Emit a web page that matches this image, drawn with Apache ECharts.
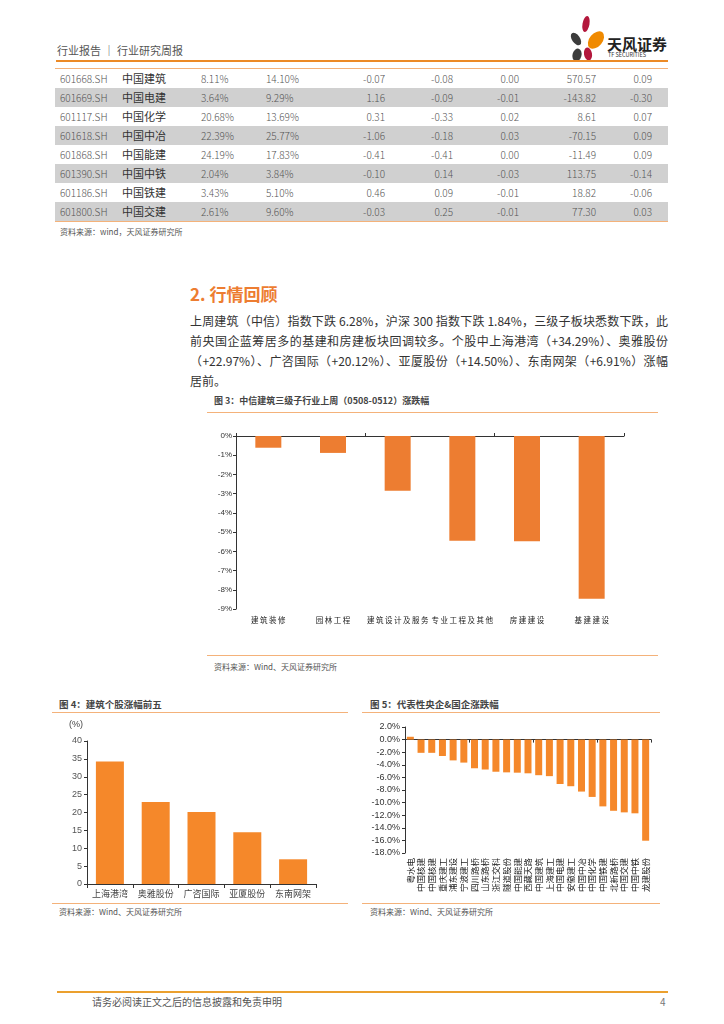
<!DOCTYPE html>
<html><head><meta charset="utf-8">
<script src="https://cdn.jsdelivr.net/npm/echarts@6/dist/echarts.min.js"></script>
<style>
body{margin:0;background:#fff;}
#page{position:relative;width:724px;height:1024px;overflow:hidden;background:#fff;font-family:"Noto Sans CJK SC","Noto Sans",sans-serif;color:#333;}
.abs{position:absolute;white-space:nowrap;}
.ln{position:absolute;height:0;}
#tbl{position:absolute;left:55px;top:69px;width:613px;border-collapse:collapse;table-layout:fixed;font-size:10px;color:#555;font-weight:300;}
#tbl td{height:19px;padding:0 5px;line-height:19px;white-space:nowrap;}
#tbl tr.g td{background:#d0d0d0;}
#tbl td.r{text-align:right;}
.para{position:absolute;left:190px;width:478px;font-size:12px;color:#333;text-align:justify;text-align-last:justify;white-space:nowrap;line-height:16px;}
#chart{position:absolute;left:0;top:0;width:724px;height:1024px;}
</style></head>
<body><div id="page">
<div class="abs" style="left:57px;top:42px;font-size:11px;color:#555;">行业报告 ｜ 行业研究周报</div>
<svg class="abs" style="left:566px;top:12px;" width="44" height="52">
  <ellipse cx="10" cy="27" rx="4" ry="7" fill="#3c3c3c" transform="rotate(-35 10 27)"/>
  <ellipse cx="20" cy="12" rx="3.5" ry="8" fill="#b3173c" transform="rotate(10 20 12)"/>
  <ellipse cx="30" cy="28" rx="6.5" ry="10" fill="#f08a00" transform="rotate(40 30 28)"/>
  <ellipse cx="11" cy="43" rx="4.5" ry="6.5" fill="#3c3c3c" transform="rotate(15 11 43)"/>
  <ellipse cx="22" cy="42" rx="4" ry="6.5" fill="#b3173c" transform="rotate(-10 22 42)"/>
</svg>
<div class="abs" style="left:607px;top:33px;font-size:15px;font-weight:bold;color:#222;">天风证券</div>
<div class="abs" style="left:608px;top:51px;font-size:5.5px;color:#333;">TF SECURITIES</div>
<div class="ln" style="left:56px;top:60px;width:612px;border-top:2px solid #ec8a26;"></div>
<div class="ln" style="left:55px;top:68px;width:613px;border-top:1px solid #f4b27a;"></div>
<table id="tbl"><colgroup>
<col style="width:62px"><col style="width:79px"><col style="width:65px"><col style="width:69px"><col style="width:60px"><col style="width:68px"><col style="width:66px"><col style="width:77px"><col style="width:67px">
</colgroup><tbody id="tb"></tbody></table>
<div class="ln" style="left:55px;top:221px;width:613px;border-top:1px solid #f4b27a;"></div>
<div class="abs" style="left:60px;top:226px;font-size:8px;color:#555;">资料来源：wind，天风证券研究所</div>

<div class="abs" style="left:190px;top:281px;font-size:17px;font-weight:bold;color:#ed7d31;">2. 行情回顾</div>
<div class="para" style="top:313px;">上周建筑（中信）指数下跌 6.28%，沪深 300 指数下跌 1.84%，三级子板块悉数下跌，此</div>
<div class="para" style="top:333px;">前央国企蓝筹居多的基建和房建板块回调较多。个股中上海港湾（+34.29%）、奥雅股份</div>
<div class="para" style="top:353px;">（+22.97%）、广咨国际（+20.12%）、亚厦股份（+14.50%）、东南网架（+6.91%）涨幅</div>
<div class="para" style="top:373px;text-align-last:left;">居前。</div>

<div class="abs" style="left:214px;top:394px;font-size:9px;font-weight:bold;color:#444;">图 3：中信建筑三级子行业上周（0508-0512）涨跌幅</div>
<div class="ln" style="left:207px;top:412px;width:451px;border-top:1px solid #f4b27a;"></div>
<div class="ln" style="left:207px;top:655px;width:451px;border-top:1px solid #f4b27a;"></div>
<div class="abs" style="left:214px;top:661px;font-size:8px;color:#555;">资料来源：Wind、天风证券研究所</div>

<div class="abs" style="left:59px;top:697px;font-size:9.5px;font-weight:bold;color:#444;">图 4：建筑个股涨幅前五</div>
<div class="ln" style="left:52px;top:712px;width:296px;border-top:1px solid #f4b27a;"></div>
<div class="ln" style="left:52px;top:903px;width:296px;border-top:1px solid #f4b27a;"></div>
<div class="abs" style="left:59px;top:906px;font-size:8px;color:#555;">资料来源：Wind、天风证券研究所</div>

<div class="abs" style="left:370px;top:697px;font-size:9.5px;font-weight:bold;color:#444;">图 5：代表性央企&amp;国企涨跌幅</div>
<div class="ln" style="left:362px;top:712px;width:298px;border-top:1px solid #f4b27a;"></div>
<div class="ln" style="left:362px;top:903px;width:298px;border-top:1px solid #f4b27a;"></div>
<div class="abs" style="left:370px;top:906px;font-size:8px;color:#555;">资料来源：Wind、天风证券研究所</div>

<div class="ln" style="left:57px;top:991px;width:611px;border-top:2px solid #eba02e;"></div>
<div class="abs" style="left:92px;top:994px;font-size:10px;color:#555;">请务必阅读正文之后的信息披露和免责申明</div>
<div class="abs" style="left:660px;top:994px;font-size:10px;color:#777;">4</div>
<div id="chart"></div>
</div>
<script>
// ---- table data ----
var tableCodes = ['601668.SH','601669.SH','601117.SH','601618.SH','601868.SH','601390.SH','601186.SH','601800.SH'];
var tableNames = ['中国建筑','中国电建','中国化学','中国中冶','中国能建','中国中铁','中国铁建','中国交建'];
var tableColA = ['8.11%','3.64%','20.68%','22.39%','24.19%','2.04%','3.43%','2.61%'];
var tableColB = ['14.10%','9.29%','13.69%','25.77%','17.83%','3.84%','5.10%','9.60%'];
var tableColC = ['-0.07','1.16','0.31','-1.06','-0.41','-0.10','0.46','-0.03'];
var tableColD = ['-0.08','-0.09','-0.33','-0.18','-0.41','0.14','0.09','0.25'];
var tableColE = ['0.00','-0.01','0.02','0.03','0.00','-0.03','-0.01','-0.01'];
var tableColF = ['570.57','-143.82','8.61','-70.15','-11.49','113.75','18.82','77.30'];
var tableColG = ['0.09','-0.30','0.07','0.09','0.09','-0.14','-0.06','0.03'];

// ---- figure 3 ----
var cats3 = ['建筑装修','园林工程','建筑设计及服务','专业工程及其他','房建建设','基建建设'];
var vals3 = [-0.61,-0.88,-2.85,-5.45,-5.47,-8.47];

// ---- figure 4 ----
var cats4 = ['上海港湾','奥雅股份','广咨国际','亚厦股份','东南网架'];
var vals4 = [34.29,22.97,20.12,14.50,6.91];

// ---- figure 5 ----
var cats5 = ['粤水电','中国核建','中国核建','重庆建工','浦东建设','宁波建工','四川路桥','山东路桥','浙江交科','隧道股份','中国能建','西藏天路','中国建筑','上海建工','中国电建','安徽建工','中国中冶','中国化学','中国铁建','北新路桥','中国交建','中国中铁','龙建股份'];
var vals5 = [0.45,-2.1,-2.1,-2.6,-3.3,-3.65,-4.55,-4.75,-5.1,-5.2,-5.25,-5.35,-5.65,-5.8,-7.05,-7.4,-8.25,-9.1,-10.6,-11.3,-11.55,-11.7,-16.05];

// build table
var tb = document.getElementById('tb');
tableCodes.forEach(function(c,i){
  var tr = document.createElement('tr');
  if(i%2===1) tr.className='g';
  var cells = [[c,''],[tableNames[i],''],[tableColA[i],''],[tableColB[i],''],[tableColC[i],'r'],[tableColD[i],'r'],[tableColE[i],'r'],[tableColF[i],'r'],[tableColG[i],'r']];
  cells.forEach(function(cell,j){
    var td=document.createElement('td');
    td.textContent=cell[0];
    if(cell[1]) td.className=cell[1];
    if(j===1){td.style.color='#333';td.style.fontWeight='400';td.style.fontSize='11px';}
    if(j===8){td.style.paddingRight='16px';}
    tr.appendChild(td);
  });
  tb.appendChild(tr);
});

var chart = echarts.init(document.getElementById('chart'), null, {renderer:'canvas'});
var F = '"Noto Sans CJK SC","Noto Sans",sans-serif';
var NF = '"Liberation Sans",Arial,sans-serif';
var axisCol = '#333';
var option = {
  animation:false,
  backgroundColor:'transparent',
  grid:[
    {left:236, top:436, width:388, height:173},
    {left:87, top:741, width:229, height:143},
    {left:405, top:727, width:246, height:126}
  ],
  xAxis:[
    {type:'category', gridIndex:0, data:cats3, position:'top',
     axisLine:{show:true, onZero:false, lineStyle:{color:axisCol,width:1}},
     axisTick:{show:true, length:3, lineStyle:{color:axisCol}}, axisLabel:{show:false}},
    {type:'category', gridIndex:0, data:cats3, position:'bottom',
     axisLine:{show:false,onZero:false}, axisTick:{show:false},
     axisLabel:{show:true, interval:0, fontSize:7.5, color:'#222', fontFamily:F, margin:7,
       formatter:function(v){return v.split('').join('\u2009');}}},
    {type:'category', gridIndex:1, data:cats4,
     axisLine:{show:true, lineStyle:{color:axisCol}},
     axisTick:{show:true, length:4, lineStyle:{color:axisCol}},
     axisLabel:{interval:0, fontSize:9, color:'#444', fontFamily:F, margin:5}},
    {type:'category', gridIndex:2, data:cats5,
     axisLine:{show:true, onZero:true, lineStyle:{color:axisCol}},
     axisTick:{show:true, length:3, lineStyle:{color:axisCol}}, axisLabel:{show:false}},
    {type:'category', gridIndex:2, data:cats5, position:'bottom',
     axisLine:{show:false, onZero:false}, axisTick:{show:false},
     axisLabel:{show:true, interval:0, rotate:90, fontSize:8.5, color:'#222', fontFamily:F, margin:5}}
  ],
  yAxis:[
    {type:'value', gridIndex:0, min:-9, max:0, interval:1,
     axisLine:{show:true, lineStyle:{color:axisCol}}, axisTick:{show:true,length:3,lineStyle:{color:axisCol}},
     splitLine:{show:false},
     axisLabel:{fontSize:8, color:'#333', fontFamily:NF, margin:4,
       formatter:function(v){return v+'%';}}},
    {type:'value', gridIndex:1, min:0, max:40, interval:5,
     name:'(%)', nameLocation:'end', nameGap:12,
     nameTextStyle:{fontSize:9, color:'#444', align:'right', padding:[0,4,0,0], fontFamily:NF},
     axisLine:{show:true, lineStyle:{color:axisCol}}, axisTick:{show:true,length:3,lineStyle:{color:axisCol}},
     splitLine:{show:false},
     axisLabel:{fontSize:9, color:'#555', fontFamily:NF, margin:5}},
    {type:'value', gridIndex:2, min:-18, max:2, interval:2,
     axisLine:{show:true, lineStyle:{color:axisCol}}, axisTick:{show:true,length:3,lineStyle:{color:axisCol}},
     splitLine:{show:false},
     axisLabel:{fontSize:9, color:'#333', fontFamily:NF, margin:5,
       formatter:function(v){return v.toFixed(1)+'%';}}}
  ],
  series:[
    {type:'bar', xAxisIndex:0, yAxisIndex:0, data:vals3, barWidth:26,
     itemStyle:{color:'#ed7d31'}},
    {type:'bar', xAxisIndex:2, yAxisIndex:1, data:vals4, barWidth:28,
     itemStyle:{color:'#f5882a'}},
    {type:'bar', xAxisIndex:3, yAxisIndex:2, data:vals5, barWidth:7,
     itemStyle:{color:'#f5882a'}}
  ]
};
chart.setOption(option);
</script>
</body></html>
